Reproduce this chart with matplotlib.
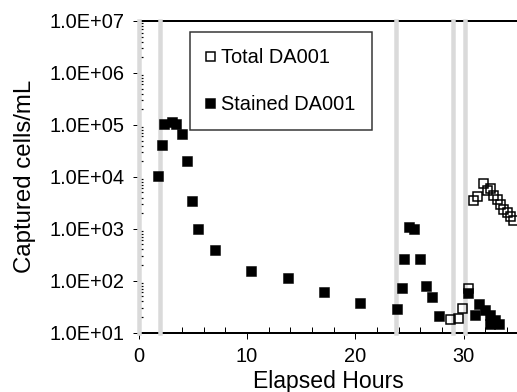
import matplotlib
matplotlib.use("Agg")
import matplotlib.pyplot as plt
from matplotlib.ticker import LogLocator, MultipleLocator, FixedLocator, FuncFormatter, NullFormatter

plt.rcParams['font.family'] = ['Liberation Sans', 'DejaVu Sans']

# Data
total_hours = [28.75, 29.45, 29.82, 30.43, 30.9, 31.27, 31.76, 32.13, 32.44, 32.74,
               33.11, 33.36, 33.67, 33.98, 34.29, 34.56]
total_cells = [18, 19, 29.5, 73, 3580, 4280, 7520, 5590, 6100, 4480,
               3750, 3000, 2400, 2100, 1760, 1480]

stained_hours = [1.81, 2.12, 2.36, 3.05, 3.44, 3.97, 4.43, 4.95, 5.48, 7.08, 10.4, 13.8,
                 17.08, 20.4, 23.82, 24.28, 24.45, 24.99, 25.45, 26.0, 26.53, 27.05, 27.76,
                 30.43, 31.05, 31.45, 31.97, 32.44, 32.44, 32.9, 33.3]
stained_cells = [1.05e4, 4.1e4, 1.05e5, 1.15e5, 1.05e5, 6.7e4, 2.04e4, 3.5e3, 1.0e3, 390, 154, 112,
                 61, 37, 28, 73, 259, 1070, 990, 259, 81, 48, 21,
                 57, 22, 35, 27, 22, 15, 17.5, 15]

event_hours = [0, 2.0, 23.8, 29.05, 30.1]
x_ticks = [0, 10, 20, 30]
y_ticks = [1e1, 1e2, 1e3, 1e4, 1e5, 1e6, 1e7]

DPI = 72
fig = plt.figure(figsize=(517 / DPI, 392 / DPI), dpi=DPI)
W, H = 517, 392
left, right, top, bottom = 138.7, 517.8, 21.0, 332.7
ax = fig.add_axes([left / W, 1 - bottom / H, (right - left) / W, (bottom - top) / H])

ax.set_yscale('log')
ax.set_xlim(0, 35)
ax.set_ylim(1e1, 1e7)

for xh in event_hours:
    ax.axvline(xh, color='#dadada', lw=4.5, zorder=2.7, clip_on=False)

ax.plot(total_hours, total_cells, linestyle='none', marker='s', markersize=9,
        markerfacecolor='none', markeredgecolor='black', markeredgewidth=1.5,
        label='Total DA001', zorder=3)
ax.plot(stained_hours, stained_cells, linestyle='none', marker='s', markersize=10.5,
        markerfacecolor='black', markeredgecolor='black', markeredgewidth=0.5,
        label='Stained DA001', zorder=4)

for s in ['top', 'bottom']:
    ax.spines[s].set_linewidth(2)
    ax.spines[s].set_color('black')
ax.spines['right'].set_visible(False)
ax.spines['left'].set_color('#dadada')
ax.spines['left'].set_linewidth(1)

ax.xaxis.set_major_locator(FixedLocator(x_ticks))
ax.xaxis.set_minor_locator(MultipleLocator(2))
ax.yaxis.set_major_locator(FixedLocator(y_ticks))
ax.yaxis.set_minor_locator(LogLocator(base=10, subs=range(2, 10), numticks=20))
ax.yaxis.set_minor_formatter(NullFormatter())
ax.yaxis.set_major_formatter(FuncFormatter(lambda v, p: '%.1E' % v))

ax.tick_params(axis='both', which='major', direction='out', length=6, width=1,
               labelsize=20, pad=8, color='black')
ax.tick_params(axis='x', which='minor', direction='in', length=6, width=1, color='black')
ax.tick_params(axis='y', which='minor', direction='in', length=4, width=1.2, color='black')

ax.set_xlabel('Elapsed Hours', fontsize=23, labelpad=4)
ax.set_ylabel('Captured cells/mL', fontsize=24, labelpad=14)

leg = ax.legend(loc='upper left', bbox_to_anchor=((190.3 - left) / (right - left), (bottom - 32.3) / (bottom - top)),
                frameon=True, fancybox=False, edgecolor='black', fontsize=20,
                labelspacing=1.4, handlelength=0.4, handletextpad=0.35, borderpad=0.8,
                borderaxespad=0, markerscale=1.0)
leg.get_frame().set_linewidth(1.5)
leg.set_zorder(5)

fig.savefig('out.png', dpi=DPI)
